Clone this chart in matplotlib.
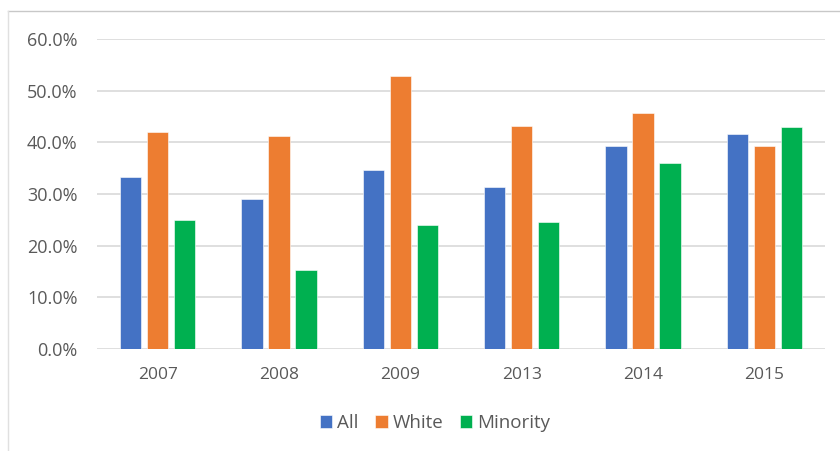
import numpy as np
import matplotlib
matplotlib.use("Agg")
import matplotlib.pyplot as plt
from matplotlib.ticker import PercentFormatter

plt.rcParams["font.family"] = ["Open Sans", "DejaVu Sans"]

# ── data ─────────────────────────────────────
years = ["2007", "2008", "2009", "2013", "2014", "2015"]
all_pct = [33.2, 29.0, 34.7, 31.4, 39.2, 41.6]
white_pct = [42.0, 41.3, 52.8, 43.1, 45.6, 39.2]
minority_pct = [24.9, 15.3, 24.0, 24.5, 36.0, 43.0]

series = [("All", all_pct, "#4472C4"),
          ("White", white_pct, "#ED7D31"),
          ("Minority", minority_pct, "#00B050")]

TEXT = "#595959"
GRID = "#D9D9D9"

fig = plt.figure(figsize=(8.4, 4.51), dpi=100)
ax = fig.add_axes([97 / 840, 1 - 349 / 451, (825 - 97) / 840, (349 - 39) / 451])

x = np.arange(len(years))
width = 0.175
step = 0.222
for i, (name, vals, color) in enumerate(series):
    ax.bar(x + (i - 1) * step, vals, width, color=color, label=name,
           edgecolor="white", linewidth=0.4, zorder=3)

ax.set_xlim(-0.5, len(years) - 0.5)
ax.set_ylim(0, 60)
ax.set_yticks(np.arange(0, 61, 10))
ax.yaxis.set_major_formatter(PercentFormatter(decimals=1))
ax.set_xticks(x)
ax.set_xticklabels(years)

ax.grid(axis="y", color=GRID, linewidth=1.2, zorder=0)
for s in ax.spines.values():
    s.set_visible(False)
ax.tick_params(length=0, colors=TEXT)
ax.tick_params(axis="x", pad=13, labelsize=12.5)
ax.tick_params(axis="y", pad=14, labelsize=13)

leg = fig.legend(loc="center", bbox_to_anchor=(435 / 840, 1 - 423 / 451), ncol=3,
                 frameon=False, fontsize=13.5, handlelength=0.65, handleheight=0.65,
                 handletextpad=0.25, columnspacing=0.9)
for t in leg.get_texts():
    t.set_color(TEXT)

# chart border (top and left edges visible in the crop)
fig.add_artist(plt.Line2D([8 / 840, 1], [1 - 11 / 451, 1 - 11 / 451], color="#C8C8C8", linewidth=1))
fig.add_artist(plt.Line2D([8 / 840, 8 / 840], [0, 1 - 11 / 451], color="#E0E0E0", linewidth=1))

fig.savefig("out.png", dpi=100)
